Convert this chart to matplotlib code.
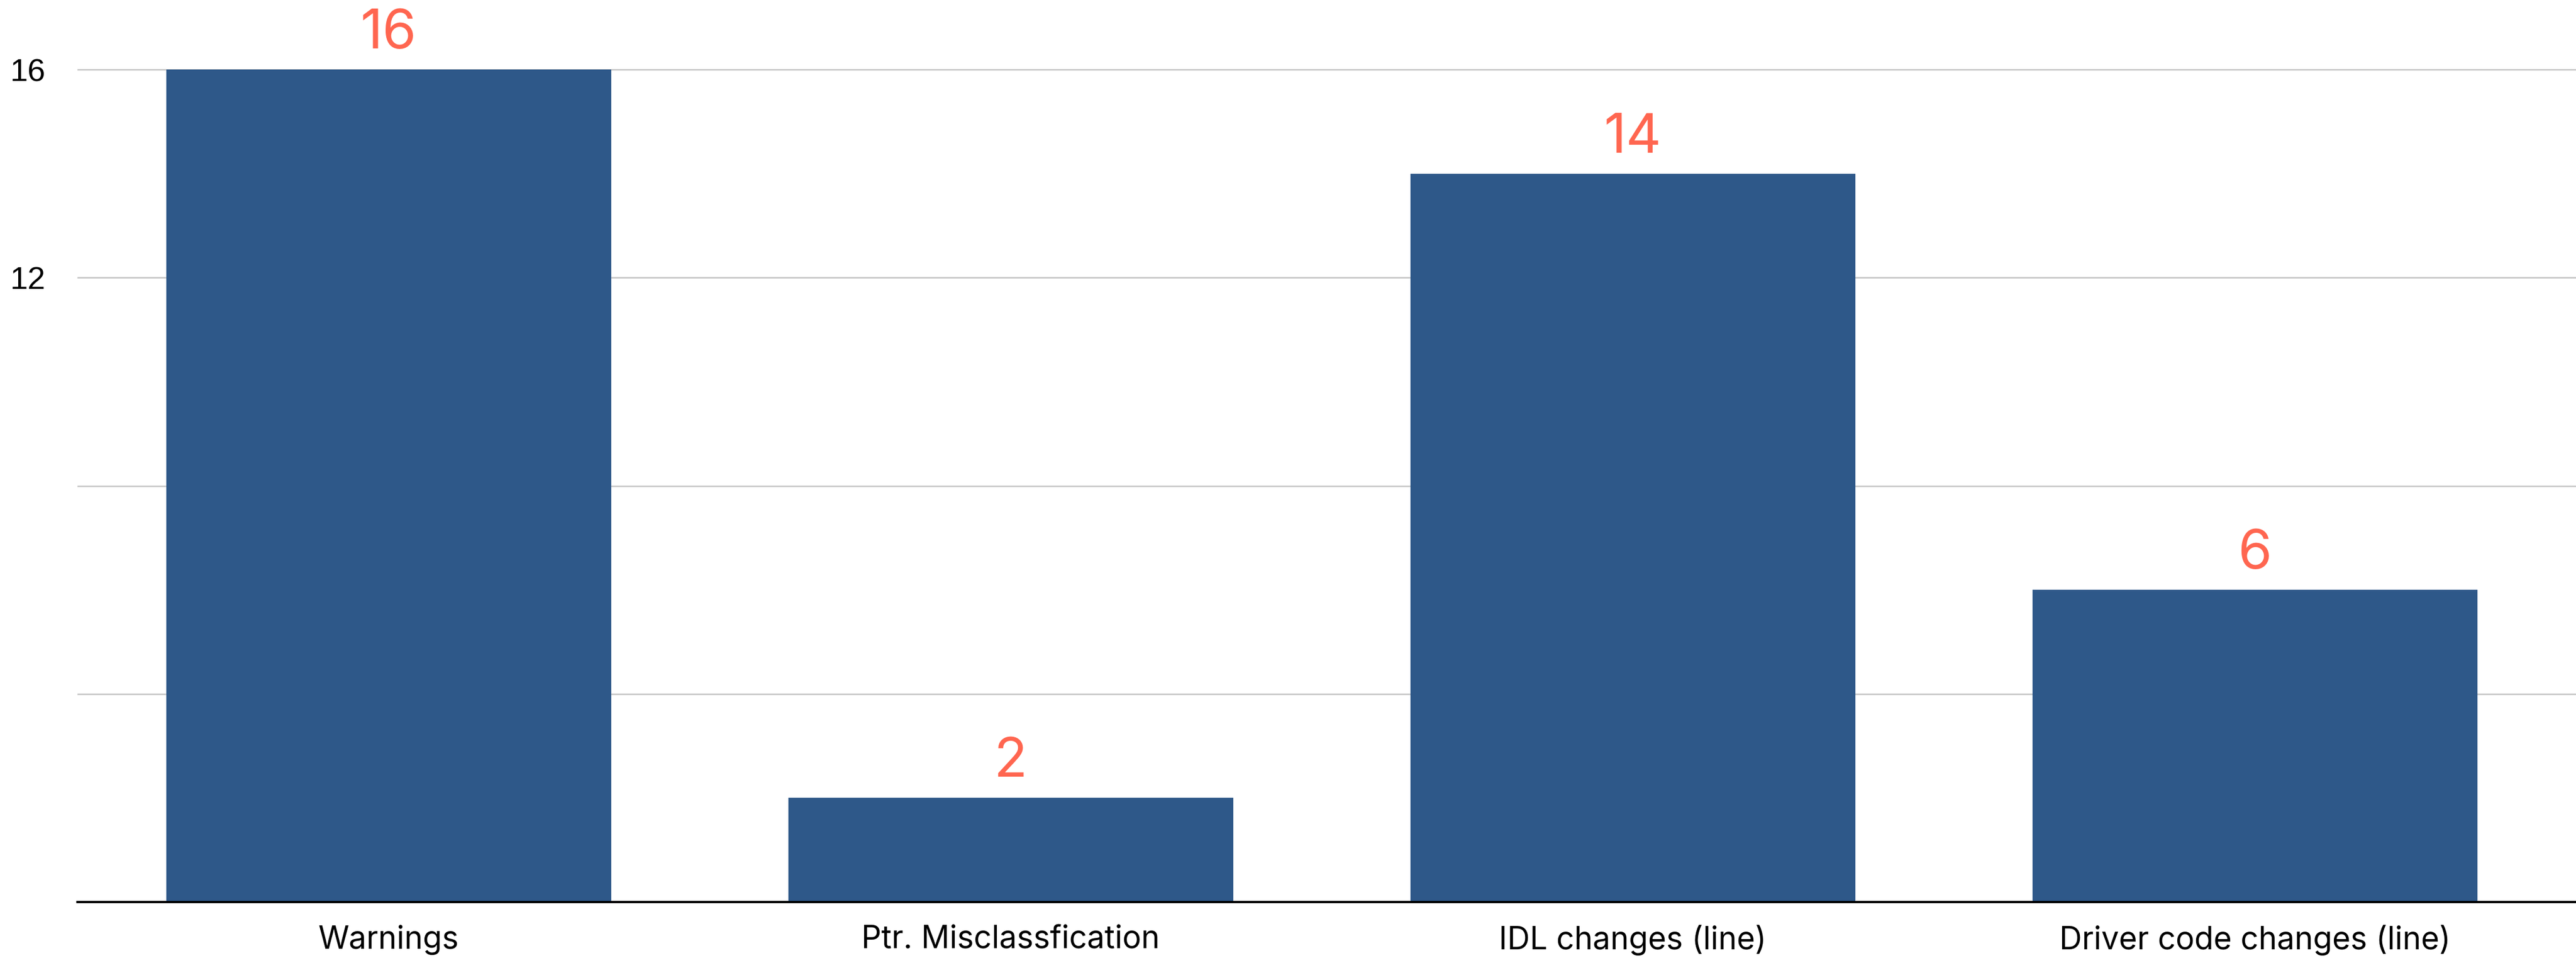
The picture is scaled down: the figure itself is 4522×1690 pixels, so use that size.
#!/usr/bin/env python3
"""Bar chart of change counts per category."""

import matplotlib.pyplot as plt

categories = ["Warnings", "Ptr. Misclassfication", "IDL changes (line)", "Driver code changes (line)"]
counts = [16, 2, 14, 6]
ytick_values = [4, 8, 12, 16]
ytick_labels = ["", "", "12", "16"]

BAR_COLOR = "#2E5889"
LABEL_COLOR = "#FF6650"
GRID_COLOR = "#C4C4C4"

W, H = 4522, 1690
# dpi 72 so that 1 pt == 1 px
fig = plt.figure(figsize=(W / 72, H / 72), dpi=72)
ax = fig.add_axes([136 / W, (H - 1583) / H, (W - 136) / W, 1583 / H])

x = range(len(categories))
bars = ax.bar(x, counts, width=0.715, color=BAR_COLOR, zorder=2)

ax.set_xlim(-0.5, len(categories) - 0.5 + 0.016)
ax.set_ylim(0, 17.34)
ax.set_yticks(ytick_values)
ax.set_yticklabels(ytick_labels, family="Liberation Sans", fontsize=56)
ax.set_xticks(list(x))
ax.set_xticklabels(categories, family="Inter", fontsize=55)
ax.tick_params(axis="both", length=0)
ax.tick_params(axis="y", pad=56)
ax.tick_params(axis="x", pad=40)

ax.grid(axis="y", color=GRID_COLOR, linewidth=2.5, zorder=0)
for side in ("top", "right", "left"):
    ax.spines[side].set_visible(False)
ax.spines["bottom"].set_linewidth(4)
ax.spines["bottom"].set_zorder(3)

for bar, val in zip(bars, counts):
    ax.annotate(
        str(val),
        (bar.get_x() + bar.get_width() / 2, bar.get_height()),
        xytext=(0, 37),
        textcoords="offset points",
        ha="center",
        va="baseline",
        family="Inter",
        fontsize=96,
        color=LABEL_COLOR,
        annotation_clip=False,
    )

fig.savefig("out.png", dpi=72)
plt.close(fig)
